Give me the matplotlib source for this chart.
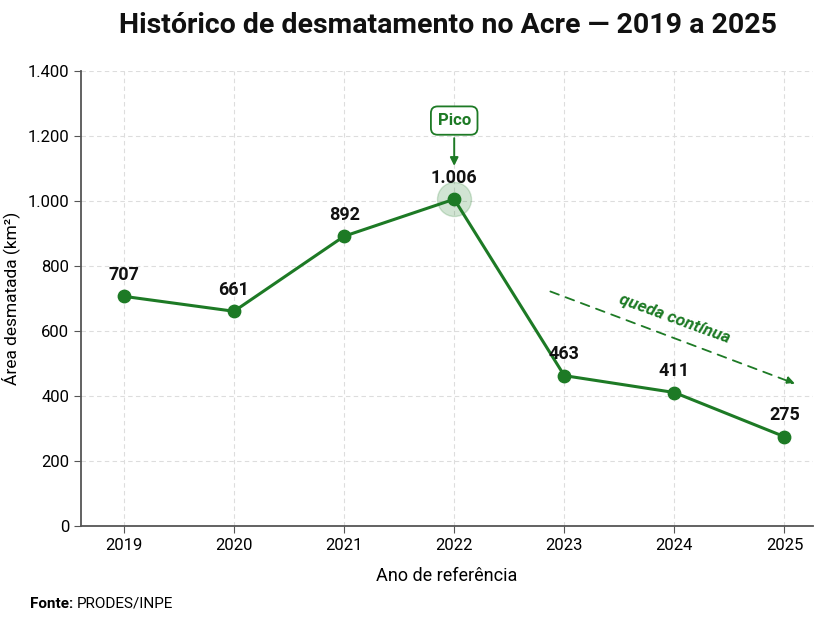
import matplotlib.pyplot as plt
from matplotlib.ticker import FuncFormatter

plt.rcParams['font.family'] = ['Roboto', 'DejaVu Sans']

anos = [2019, 2020, 2021, 2022, 2023, 2024, 2025]
area = [707, 661, 892, 1006, 463, 411, 275]
rotulos = ['707', '661', '892', '1.006', '463', '411', '275']
y_ticks = [0, 200, 400, 600, 800, 1000, 1200, 1400]

verde = '#1d7a25'

fig = plt.figure(figsize=(8.4, 6.3), dpi=100)
ax = fig.add_axes([0.0964, 0.165, 0.8716, 0.722])

ax.plot(anos, area, color=verde, linewidth=2.2, zorder=3)
ax.scatter(anos, area, s=80, color=verde, zorder=4)
ax.scatter([2022], [1006], s=600, color=verde, alpha=0.2, zorder=2)

for x, y, t in zip(anos, area, rotulos):
    ax.annotate(t, (x, y), xytext=(0, 9), textcoords='offset points',
                ha='center', va='bottom', fontsize=13, fontweight='bold', color='#111111')

# destaque do pico
ax.annotate('Pico', xy=(2022, 1100), xytext=(2022, 1248),
            ha='center', va='center', fontsize=12, fontweight='bold', color=verde,
            bbox=dict(boxstyle='round,pad=0.4', fc='white', ec=verde, lw=1.3),
            arrowprops=dict(arrowstyle='-|>', color=verde, lw=1.4, mutation_scale=12))

# tendência de queda
ax.annotate('', xy=(2025.12, 435), xytext=(2022.85, 725),
            arrowprops=dict(arrowstyle='-|>', color=verde, lw=1.3, linestyle=(0, (5, 4)),
                            mutation_scale=12))
ax.text(2024.0, 636, 'queda contínua', rotation=-20, ha='center', va='center',
        fontsize=12.5, fontstyle='italic', fontweight='bold', color=verde)

ax.set_xlim(2018.61, 2025.26)
ax.set_ylim(0, 1400)
ax.set_xticks(anos)
ax.set_yticks(y_ticks)
ax.yaxis.set_major_formatter(FuncFormatter(lambda v, p: f'{int(v):,}'.replace(',', '.')))
ax.tick_params(labelsize=12, color='#555555', length=5)
ax.grid(True, linestyle=(0, (4, 3)), color='#dddddd', linewidth=0.8)
ax.set_axisbelow(True)
for s in ['top', 'right']:
    ax.spines[s].set_visible(False)
for s in ['left', 'bottom']:
    ax.spines[s].set_color('#555555')
    ax.spines[s].set_linewidth(1.3)

ax.set_xlabel('Ano de referência', fontsize=13, labelpad=10)
ax.set_ylabel('Área desmatada (km²)', fontsize=12.5)
ax.yaxis.set_label_coords(-0.083, 0.5)

fig.text(0.533, 0.96, 'Histórico de desmatamento no Acre — 2019 a 2025',
         ha='center', va='center', fontsize=20.5, fontweight='bold', color='#111111')
t1 = fig.text(0.036, 0.042, 'Fonte:', fontsize=11, fontweight='bold', ha='left', va='center')
fig.canvas.draw()
bb = t1.get_window_extent()
fig.text(bb.x1 / 840 + 0.004, 0.042, 'PRODES/INPE', fontsize=11, ha='left', va='center')

fig.savefig('out.png', dpi=100)
